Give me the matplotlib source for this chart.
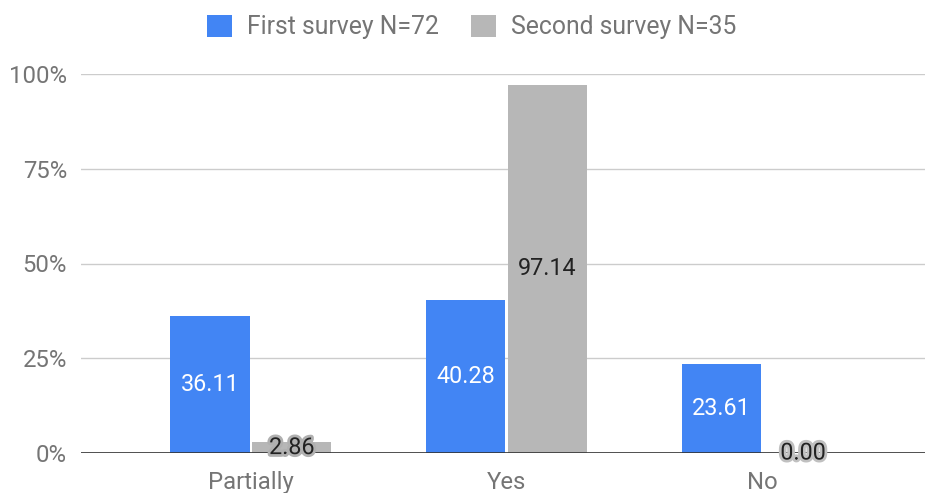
import matplotlib
matplotlib.use("Agg")
import matplotlib.pyplot as plt
import matplotlib.patheffects as pe
import numpy as np

categories = ["Partially", "Yes", "No"]
first_survey = [36.11, 40.28, 23.61]
second_survey = [2.86, 97.14, 0.00]
series_names = ["First survey N=72", "Second survey N=35"]
yticks = [0, 25, 50, 75, 100]

plt.rcParams['font.family'] = ['Roboto', 'DejaVu Sans']
blue = '#4285F4'
gray = '#B7B7B7'
tick_color = '#757575'

fig = plt.figure(figsize=(9.25, 4.93), dpi=100)
ax = fig.add_axes([81/925, 40/493, 1 - 81/925, (453-74)/493])

x = np.arange(len(categories))
w = 0.31
gap = 0.005
b1 = ax.bar(x - w/2 - gap, first_survey, w, color=blue, label=series_names[0], zorder=3)
b2 = ax.bar(x + w/2 + gap, second_survey, w, color=gray, label=series_names[1], zorder=3)

lab_fs = 16.8
for rect, v in zip(b1, first_survey):
    ax.text(rect.get_x() + rect.get_width()/2, v/2, f"{v:.2f}", ha='center', va='center',
            color='white', fontsize=lab_fs, zorder=5)
for rect, v in zip(b2, second_survey):
    if v > 10:
        ax.text(rect.get_x() + rect.get_width()/2, v/2, f"{v:.2f}", ha='center', va='center',
                color='#222222', fontsize=lab_fs, zorder=5)
    else:
        ax.text(rect.get_x() + rect.get_width()/2, v/2, f"{v:.2f}", ha='center', va='center',
                color='#222222', fontsize=lab_fs, zorder=5,
                path_effects=[pe.withStroke(linewidth=4, foreground='#B0B0B0' if v > 0 else '#C0C0C0')])

ax.set_xlim(-0.665, 2.637)
ax.set_ylim(0, 100)
ax.set_yticks(yticks)
ax.set_yticklabels([f"{t}%" for t in yticks])
ax.set_xticks(x)
ax.set_xticklabels(categories)
ax.tick_params(axis='both', length=0, colors=tick_color, labelsize=17.2)
ax.tick_params(axis='y', pad=10)
ax.tick_params(axis='x', pad=13)
ax.grid(axis='y', color='#CCCCCC', linewidth=1, zorder=0)
for s in ax.spines.values():
    s.set_visible(False)
ax.axhline(0, color='#333333', linewidth=1.2, zorder=4)

leg = fig.legend(handles=[b1, b2], labels=series_names, loc='center',
                 bbox_to_anchor=(0.5 + 9.5/925, 1 - 27/493),
                 ncol=2, frameon=False, fontsize=17.8, handlelength=1.0, handleheight=1.0,
                 handletextpad=0.62, columnspacing=1.3, labelcolor=tick_color)

fig.savefig("out.png", dpi=100)
